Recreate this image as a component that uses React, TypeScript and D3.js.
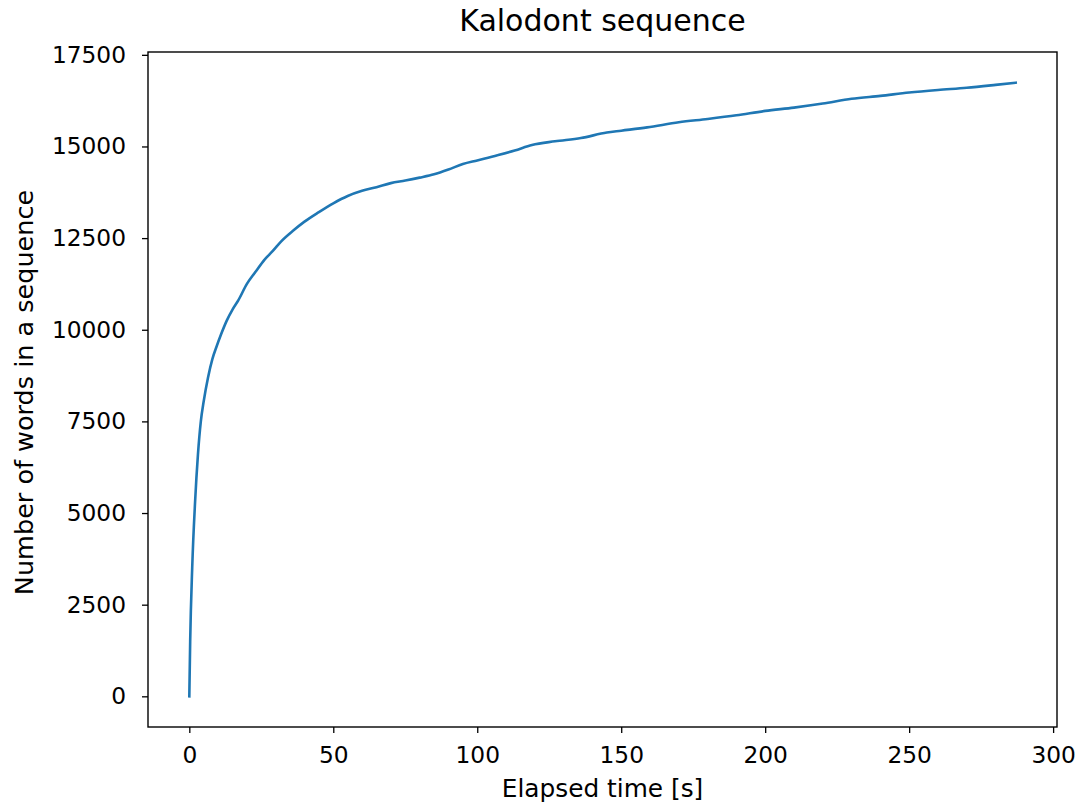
import React, { useEffect, useRef } from 'react';
import * as d3 from 'd3';

// elapsed time [s] and the length of the word chain at that time
const elapsedTime = [
  0, 0.3, 1, 2, 3, 4, 5, 6.5, 8, 9.5, 11, 13, 15, 17, 20, 23, 26, 29, 32, 36,
  40, 45, 50, 55, 60, 65, 70, 75, 80, 85, 90, 95, 100, 107, 113, 119, 127, 136,
  145, 150, 159, 170, 180, 190, 200, 210, 220, 230, 240, 250, 260, 270, 280, 287,
];
const wordCount = [
  0, 1500, 3500, 5300, 6600, 7500, 8050, 8700, 9200, 9550, 9870, 10250, 10550,
  10800, 11250, 11580, 11900, 12150, 12420, 12700, 12950, 13210, 13450, 13650,
  13790, 13890, 14000, 14070, 14150, 14240, 14370, 14520, 14620, 14760, 14890,
  15040, 15140, 15230, 15380, 15430, 15520, 15660, 15750, 15850, 15970, 16060,
  16170, 16300, 16380, 16470, 16540, 16600, 16680, 16740,
];
const xTicks = [0, 50, 100, 150, 200, 250, 300];
const yTicks = [0, 2500, 5000, 7500, 10000, 12500, 15000, 17500];

const title = 'Kalodont sequence';
const xLabel = 'Elapsed time [s]';
const yLabel = 'Number of words in a sequence';

const KalodontChart = ({ width = 1076, height = 807 }) => {
  const ref = useRef<SVGSVGElement>(null);

  useEffect(() => {
    const margin = { top: 52, right: 19, bottom: 80, left: 148 };
    const innerWidth = width - margin.left - margin.right;
    const innerHeight = height - margin.top - margin.bottom;
    const font = 'DejaVu Sans, sans-serif';

    const svg = d3.select(ref.current)
      .attr('width', width)
      .attr('height', height);

    svg.selectAll('*').remove();

    svg.append('rect')
      .attr('width', width)
      .attr('height', height)
      .attr('fill', 'white');

    const data = elapsedTime.map((t, i) => ({ t, v: wordCount[i] }));

    // matplotlib-like 5% margins around the data
    const [x0, x1] = d3.extent(elapsedTime) as [number, number];
    const [y0, y1] = d3.extent(wordCount) as [number, number];
    const padX = (x1 - x0) * 0.05;
    const padY = (y1 - y0) * 0.05;

    const x = d3.scaleLinear()
      .domain([x0 - padX, x1 + padX])
      .range([0, innerWidth]);

    const y = d3.scaleLinear()
      .domain([y0 - padY, y1 + padY])
      .range([innerHeight, 0]);

    const g = svg.append('g')
      .attr('transform', `translate(${margin.left},${margin.top})`);

    const line = d3.line<{ t: number; v: number }>()
      .curve(d3.curveMonotoneX)
      .x(d => x(d.t))
      .y(d => y(d.v));

    g.append('path')
      .datum(data)
      .attr('d', line)
      .attr('fill', 'none')
      .attr('stroke', '#1f77b4')
      .attr('stroke-width', 2.6)
      .attr('stroke-linecap', 'square');

    // x axis
    const xAxis = g.append('g')
      .attr('transform', `translate(0,${innerHeight})`)
      .call(d3.axisBottom(x).tickValues(xTicks).tickSize(6).tickPadding(8).tickFormat(d3.format('d')));

    // y axis
    const yAxis = g.append('g')
      .call(d3.axisLeft(y).tickValues(yTicks).tickSize(6).tickPadding(16).tickFormat(d3.format('d')));

    [xAxis, yAxis].forEach(ax => {
      ax.select('.domain').remove();
      ax.selectAll('line').attr('stroke', 'black').attr('stroke-width', 1.3);
      ax.selectAll('text')
        .attr('fill', 'black')
        .style('font-family', font)
        .style('font-size', '23.3px');
    });
    xAxis.selectAll('text').attr('dy', '0.95em');

    // frame
    g.append('rect')
      .attr('width', innerWidth)
      .attr('height', innerHeight)
      .attr('fill', 'none')
      .attr('stroke', 'black')
      .attr('stroke-width', 1.4);

    svg.append('text')
      .attr('x', margin.left + innerWidth / 2)
      .attr('y', 31)
      .attr('text-anchor', 'middle')
      .style('font-family', font)
      .style('font-size', '30px')
      .text(title);

    svg.append('text')
      .attr('x', margin.left + innerWidth / 2)
      .attr('y', 797)
      .attr('text-anchor', 'middle')
      .style('font-family', font)
      .style('font-size', '24.8px')
      .text(xLabel);

    svg.append('text')
      .attr('transform', `translate(33,${margin.top + innerHeight / 2 + 3}) rotate(-90)`)
      .attr('text-anchor', 'middle')
      .style('font-family', font)
      .style('font-size', '25.5px')
      .text(yLabel);
  }, [width, height]);

  return <svg ref={ref} style={{ position: 'absolute', left: 0, top: 0 }}></svg>;
};

export default function App() {
  return <KalodontChart />;
}
